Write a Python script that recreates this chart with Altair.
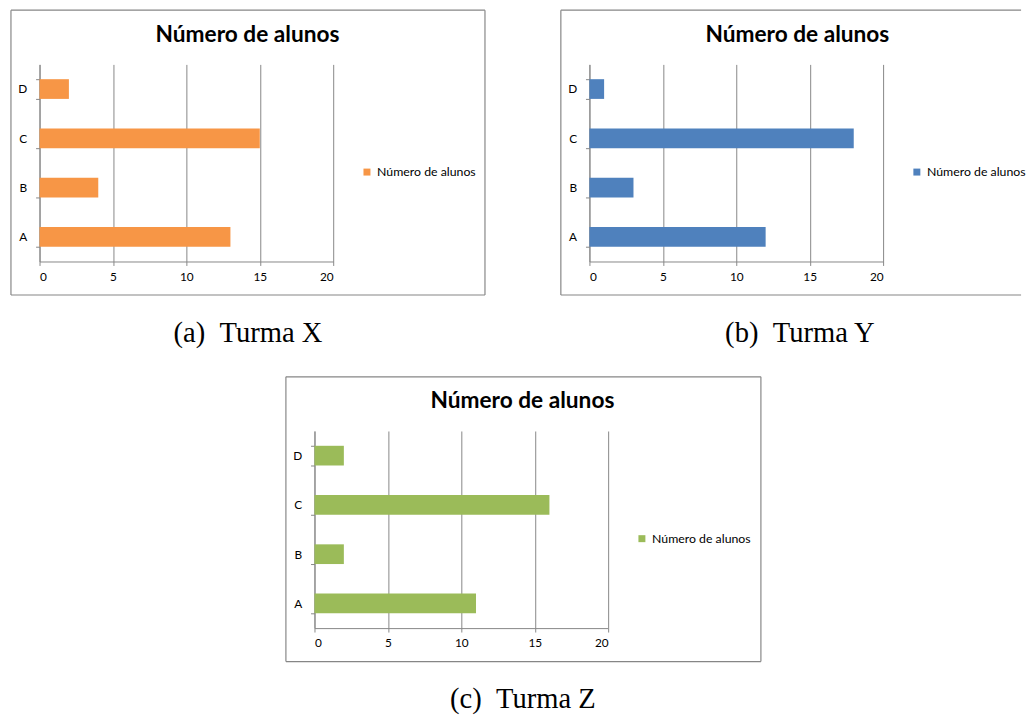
import altair as alt
import pandas as pd

categorias = ["A", "B", "C", "D"]
ordem = ["D", "C", "B", "A"]
turma_x = [13, 4, 15, 2]
turma_y = [12, 3, 18, 1]
turma_z = [11, 2, 16, 2]
serie = "Número de alunos"
legendas = ["(a)\u2002Turma X", "(b)\u2002Turma Y", "(c)\u2002Turma Z"]
cores = ["#F79646", "#4F81BD", "#9BBB59"]
ticks_x = [0, 5, 10, 15, 20]

GRAY = "#868686"
SANS = "Lato"
SERIF = "Liberation Serif"


def frame(right, draw_right=True):
    d = alt.Chart(pd.DataFrame({"k": [0]}))
    m = dict(color=GRAY, strokeWidth=1.2)
    parts = [
        d.mark_rule(**m).encode(x=alt.value(-29), x2=alt.value(right), y=alt.value(-55)),
        d.mark_rule(**m).encode(x=alt.value(-29), x2=alt.value(right), y=alt.value(234)),
        d.mark_rule(**m).encode(x=alt.value(-29), y=alt.value(-55), y2=alt.value(234)),
    ]
    if draw_right:
        parts.append(d.mark_rule(**m).encode(x=alt.value(right), y=alt.value(-55), y2=alt.value(234)))
    titulo = d.mark_text(
        font=SANS, fontSize=23, fontWeight="bold", color="#000",
        align="center", baseline="alphabetic",
    ).encode(x=alt.value(211), y=alt.value(-23), text=alt.value(serie))
    parts.append(titulo)
    return parts


def panel(vals, color, caption, cap_x, right, draw_right=True):
    df = pd.DataFrame({"cat": categorias, "n": vals, "serie": [serie] * 4})
    bars = alt.Chart(df).mark_bar().encode(
        x=alt.X(
            "n:Q",
            scale=alt.Scale(domain=[0, 20], nice=False),
            axis=alt.Axis(
                values=ticks_x, grid=True, gridColor=GRAY, gridOpacity=1,
                domainColor=GRAY, tickColor=GRAY, tickSize=4,
                labelFont=SANS, labelFontSize=12, labelColor="#000", labelPadding=6,
                title=caption, titleFont=SERIF, titleFontSize=29, titleFontWeight="normal",
                titleColor="#000", titleX=cap_x, titleY=81, titleBaseline="alphabetic",
            ),
        ),
        y=alt.Y(
            "cat:N", sort=ordem,
            scale=alt.Scale(paddingInner=0.6, paddingOuter=0.3),
            axis=alt.Axis(
                title=None, tickBand="extent", grid=False, domainColor=GRAY,
                tickColor=GRAY, tickSize=4, labelFont=SANS, labelFontSize=12,
                labelColor="#000", labelPadding=9,
            ),
        ),
        color=alt.Color(
            "serie:N", scale=alt.Scale(range=[color]),
            legend=alt.Legend(
                title=None, orient="none", legendX=326, legendY=103,
                symbolType="square", symbolSize=50, symbolStrokeWidth=0,
                labelFont=SANS, labelFontSize=12.5, labelColor="#000",
            ),
        ),
    )
    return alt.layer(*frame(right, draw_right), bars).properties(width=298, height=200)


a = panel(turma_x, cores[0], legendas[0], 211, 452)
b = panel(turma_y, cores[1], legendas[1], 213, 438, draw_right=False)
c = panel(turma_z, cores[2], legendas[2], 211, 453)

spacer = alt.Chart(pd.DataFrame({"k": [0]})).mark_point(opacity=0).encode(
    x=alt.value(0), y=alt.value(0)
).properties(width=249, height=1)

top = alt.hconcat(a, b, spacing=75).resolve_scale(color="independent").resolve_legend(color="independent")
bottom = alt.hconcat(spacer, c, spacing=0).resolve_scale(color="independent").resolve_legend(color="independent")

chart = alt.vconcat(top, bottom, spacing=29).resolve_scale(color="independent").resolve_legend(
    color="independent"
).properties(
    padding={"left": 2, "top": -4, "right": 0, "bottom": 0}
).configure_view(strokeWidth=0)

chart.save("out.html", embed_options={"renderer": "svg", "actions": False})
